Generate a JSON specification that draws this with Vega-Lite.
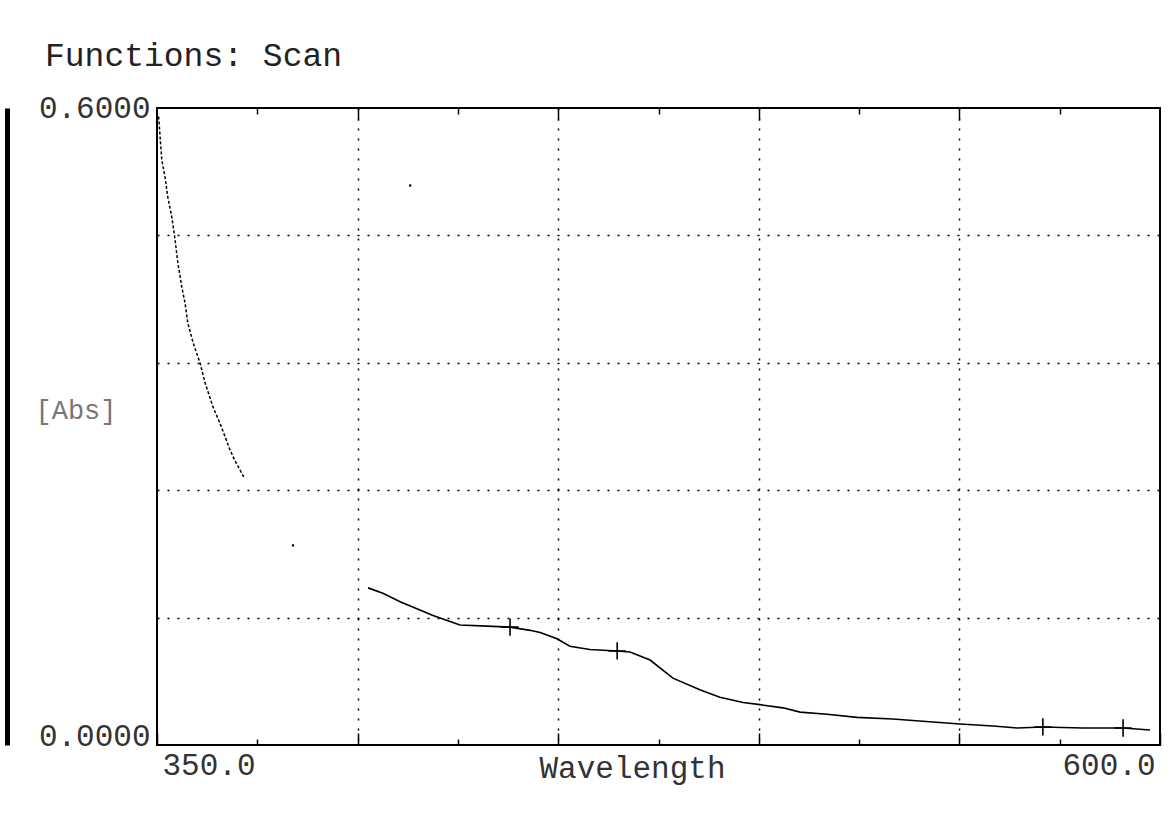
{
  "$schema": "https://vega.github.io/schema/vega-lite/v6.json",
  "autosize": "none",
  "width": 1003,
  "height": 637,
  "padding": {"left": 157, "top": 108, "right": 16, "bottom": 68},
  "background": "white",
  "config": {
    "view": {"stroke": "black", "strokeWidth": 2},
    "font": "Liberation Mono",
    "axis": {"labelFont": "Liberation Mono", "titleFont": "Liberation Mono", "titleFontWeight": "normal"}
  },
  "title": {
    "text": "Functions: Scan",
    "anchor": "start",
    "frame": "group",
    "dx": -112,
    "offset": 19,
    "font": "Liberation Mono",
    "fontSize": 33,
    "fontWeight": "normal",
    "color": "#222"
  },
  "datasets": {
    "scan": [
      {"wavelength": 350.4, "abs": 0.592, "segment": 1},
      {"wavelength": 351.2, "abs": 0.551, "segment": 1},
      {"wavelength": 352.0, "abs": 0.535, "segment": 1},
      {"wavelength": 352.7, "abs": 0.516, "segment": 1},
      {"wavelength": 353.7, "abs": 0.497, "segment": 1},
      {"wavelength": 354.5, "abs": 0.476, "segment": 1},
      {"wavelength": 355.2, "abs": 0.454, "segment": 1},
      {"wavelength": 356.2, "abs": 0.431, "segment": 1},
      {"wavelength": 357.0, "abs": 0.416, "segment": 1},
      {"wavelength": 357.7, "abs": 0.397, "segment": 1},
      {"wavelength": 359.0, "abs": 0.379, "segment": 1},
      {"wavelength": 360.7, "abs": 0.360, "segment": 1},
      {"wavelength": 362.0, "abs": 0.341, "segment": 1},
      {"wavelength": 364.0, "abs": 0.318, "segment": 1},
      {"wavelength": 365.7, "abs": 0.303, "segment": 1},
      {"wavelength": 368.2, "abs": 0.278, "segment": 1},
      {"wavelength": 369.4, "abs": 0.268, "segment": 1},
      {"wavelength": 371.7, "abs": 0.252, "segment": 1},
      {"wavelength": 402.6, "abs": 0.148, "segment": 2},
      {"wavelength": 406.3, "abs": 0.143, "segment": 2},
      {"wavelength": 410.6, "abs": 0.135, "segment": 2},
      {"wavelength": 418.8, "abs": 0.122, "segment": 2},
      {"wavelength": 425.5, "abs": 0.113, "segment": 2},
      {"wavelength": 432.3, "abs": 0.112, "segment": 2},
      {"wavelength": 438.0, "abs": 0.111, "segment": 2},
      {"wavelength": 443.0, "abs": 0.108, "segment": 2},
      {"wavelength": 445.5, "abs": 0.106, "segment": 2},
      {"wavelength": 449.7, "abs": 0.100, "segment": 2},
      {"wavelength": 452.9, "abs": 0.093, "segment": 2},
      {"wavelength": 457.9, "abs": 0.090, "segment": 2},
      {"wavelength": 464.7, "abs": 0.0886, "segment": 2},
      {"wavelength": 467.9, "abs": 0.0876, "segment": 2},
      {"wavelength": 472.9, "abs": 0.080, "segment": 2},
      {"wavelength": 478.6, "abs": 0.063, "segment": 2},
      {"wavelength": 485.3, "abs": 0.052, "segment": 2},
      {"wavelength": 490.3, "abs": 0.045, "segment": 2},
      {"wavelength": 496.1, "abs": 0.040, "segment": 2},
      {"wavelength": 500.3, "abs": 0.038, "segment": 2},
      {"wavelength": 506.0, "abs": 0.035, "segment": 2},
      {"wavelength": 510.3, "abs": 0.031, "segment": 2},
      {"wavelength": 517.0, "abs": 0.029, "segment": 2},
      {"wavelength": 524.5, "abs": 0.026, "segment": 2},
      {"wavelength": 533.4, "abs": 0.0245, "segment": 2},
      {"wavelength": 543.4, "abs": 0.0217, "segment": 2},
      {"wavelength": 550.1, "abs": 0.0198, "segment": 2},
      {"wavelength": 558.4, "abs": 0.0179, "segment": 2},
      {"wavelength": 564.4, "abs": 0.016, "segment": 2},
      {"wavelength": 570.8, "abs": 0.017, "segment": 2},
      {"wavelength": 580.8, "abs": 0.016, "segment": 2},
      {"wavelength": 590.8, "abs": 0.016, "segment": 2},
      {"wavelength": 597.5, "abs": 0.0141, "segment": 2}
    ],
    "markers": [
      {"wavelength": 438.0, "abs": 0.111},
      {"wavelength": 464.7, "abs": 0.0886},
      {"wavelength": 570.8, "abs": 0.017},
      {"wavelength": 590.8, "abs": 0.016}
    ],
    "dots": [
      {"wavelength": 383.9, "abs": 0.188},
      {"wavelength": 413.1, "abs": 0.527}
    ]
  },
  "resolve": {"axis": {"x": "independent", "y": "independent"}},
  "layer": [
    {
      "data": {"name": "scan"},
      "transform": [{"filter": "datum.segment == 1"}],
      "mark": {"type": "line", "color": "black", "strokeWidth": 1.5, "strokeDash": [3, 2]},
      "encoding": {
        "x": {
          "field": "wavelength", "type": "quantitative",
          "scale": {"domain": [350, 600], "nice": false, "zero": false},
          "axis": {
            "orient": "bottom",
            "values": [350, 400, 450, 500, 550, 600],
            "domain": false,
            "ticks": true, "tickSize": -12, "tickColor": "black", "tickWidth": 1.5,
            "labelExpr": "datum.value == 350 || datum.value == 600 ? format(datum.value, '.1f') : ''",
            "labelFlush": true, "labelFlushOffset": -5, "labelOverlap": false,
            "labelPadding": 17, "labelBaseline": "top",
            "labelFontSize": 31, "labelColor": "#333",
            "grid": true, "gridColor": "black", "gridDash": [2, 8], "gridWidth": 1.5,
            "gridOpacity": {"condition": {"test": "datum.value == 350 || datum.value == 600", "value": 0}, "value": 1},
            "title": "Wavelength", "titleX": 475, "titleY": 32, "titleAlign": "center", "titleBaseline": "alphabetic",
            "titleFontSize": 31, "titleColor": "#333"
          }
        },
        "y": {
          "field": "abs", "type": "quantitative",
          "scale": {"domain": [0, 0.6], "nice": false, "zero": false},
          "axis": {
            "orient": "left",
            "values": [0, 0.12, 0.24, 0.36, 0.48, 0.6],
            "domain": false, "ticks": false,
            "labelExpr": "datum.value == 0 || datum.value == 0.6 ? format(datum.value, '.4f') : ''",
            "labelPadding": 7, "labelFontSize": 31, "labelColor": "#333",
            "labelBaseline": {"condition": {"test": "datum.value == 0", "value": "alphabetic"}, "value": "middle"},
            "grid": true, "gridColor": "black", "gridDash": [2, 8], "gridWidth": 1.5,
            "gridOpacity": {"condition": {"test": "datum.value == 0 || datum.value == 0.6", "value": 0}, "value": 1},
            "title": "[Abs]", "titleAngle": 0, "titleAlign": "left", "titleBaseline": "middle",
            "titleX": -122, "titleY": 302, "titleFontSize": 27, "titleColor": "#777"
          }
        }
      }
    },
    {
      "data": {"name": "scan"},
      "transform": [{"filter": "datum.segment == 2"}],
      "mark": {"type": "line", "color": "black", "strokeWidth": 1.6},
      "encoding": {
        "x": {
          "field": "wavelength", "type": "quantitative",
          "scale": {"domain": [350, 600], "nice": false, "zero": false},
          "axis": {
            "orient": "bottom",
            "values": [375, 425, 475, 525, 575],
            "domain": false, "labels": false, "grid": false, "title": null,
            "ticks": true, "tickSize": -6, "tickColor": "black", "tickWidth": 1.5
          }
        },
        "y": {
          "field": "abs", "type": "quantitative",
          "scale": {"domain": [0, 0.6], "nice": false, "zero": false},
          "axis": {
            "orient": "left", "offset": 150,
            "domain": true, "domainColor": "black", "domainWidth": 5,
            "ticks": false, "labels": false, "grid": false, "title": null
          }
        }
      }
    },
    {
      "data": {"name": "markers"},
      "mark": {"type": "point", "shape": "M-1,0H1M0,-1V1", "filled": false, "stroke": "black", "strokeWidth": 1.6, "size": 300, "opacity": 1},
      "encoding": {
        "x": {
          "field": "wavelength", "type": "quantitative",
          "scale": {"domain": [350, 600], "nice": false, "zero": false},
          "axis": {
            "orient": "top",
            "values": [400, 450, 500, 550],
            "domain": false, "labels": false, "grid": false, "title": null,
            "ticks": true, "tickSize": -12, "tickColor": "black", "tickWidth": 1.5
          }
        },
        "y": {
          "field": "abs", "type": "quantitative",
          "scale": {"domain": [0, 0.6], "nice": false, "zero": false},
          "axis": null
        }
      }
    },
    {
      "data": {"name": "dots"},
      "mark": {"type": "point", "shape": "square", "filled": true, "color": "black", "size": 5, "opacity": 1},
      "encoding": {
        "x": {
          "field": "wavelength", "type": "quantitative",
          "scale": {"domain": [350, 600], "nice": false, "zero": false},
          "axis": {
            "orient": "top",
            "values": [375, 425, 475, 525, 575],
            "domain": false, "labels": false, "grid": false, "title": null,
            "ticks": true, "tickSize": -6, "tickColor": "black", "tickWidth": 1.5
          }
        },
        "y": {
          "field": "abs", "type": "quantitative",
          "scale": {"domain": [0, 0.6], "nice": false, "zero": false},
          "axis": null
        }
      }
    }
  ]
}
